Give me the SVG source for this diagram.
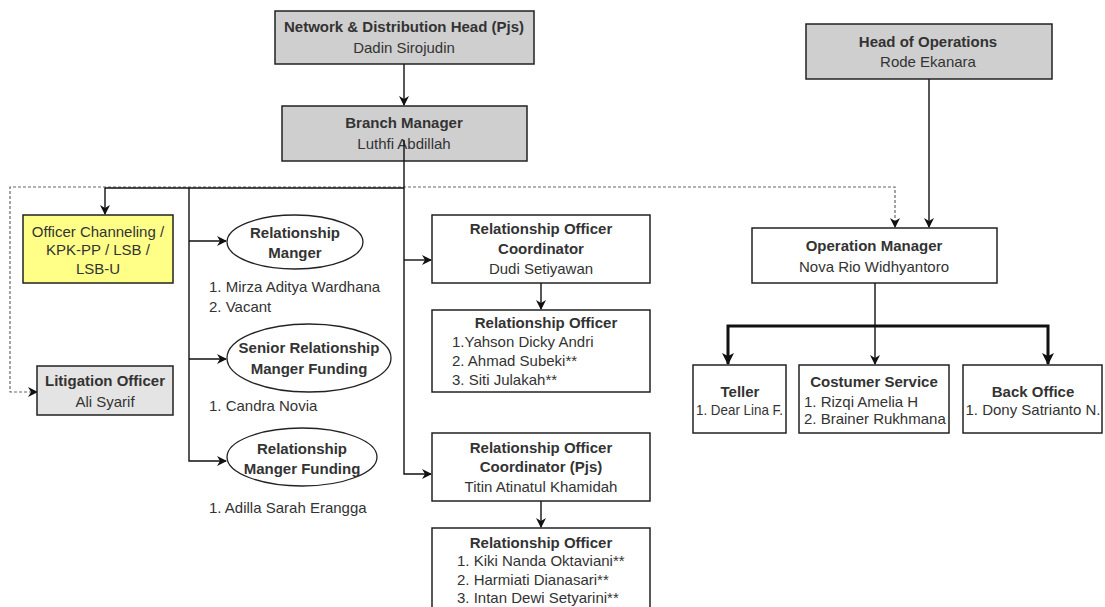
<svg xmlns="http://www.w3.org/2000/svg" width="1105" height="607" viewBox="0 0 1105 607">
<style>
text{font-family:"Liberation Sans",Arial,sans-serif;font-size:15px;fill:#333}
.b{font-weight:bold}
.c{text-anchor:middle}
.box{fill:#fff;stroke:#222;stroke-width:1.5}
.grey{fill:#cfcfcf;stroke:#222;stroke-width:1.5}
.lgrey{fill:#e4e4e4;stroke:#222;stroke-width:1.5}
.yel{fill:#ffff88;stroke:#222;stroke-width:1.5}
.ell{fill:#fff;stroke:#222;stroke-width:1.3}
.ln{fill:none;stroke:#111;stroke-width:1.4}
.bold{fill:none;stroke:#111;stroke-width:3}
.dot{fill:none;stroke:#666;stroke-width:1.2;stroke-dasharray:3 2}
</style>
<defs>
<marker id="a" markerWidth="10" markerHeight="10" refX="9" refY="5" orient="auto-start-reverse" markerUnits="userSpaceOnUse">
<path d="M0,0 L10,5 L0,10 L3,5 Z" fill="#111"/>
</marker>
<marker id="ab" markerWidth="12" markerHeight="12" refX="11" refY="6" orient="auto" markerUnits="userSpaceOnUse">
<path d="M0,0 L12,6 L0,12 L3,6 Z" fill="#111"/>
</marker>
</defs>
<rect width="1105" height="607" fill="#fff"/>
<g id="connectors">
<path class="dot" d="M37,392 H10 V187 H895 V227" marker-start="url(#a)" marker-end="url(#a)"/>
<path class="ln" d="M404,64 V105" marker-end="url(#a)"/>
<path class="ln" d="M404,140 V474 H431" marker-end="url(#a)"/>
<path class="ln" d="M404,260 H431" marker-end="url(#a)"/>
<path class="ln" d="M404,188 H105 V214" marker-end="url(#a)"/>
<path class="ln" d="M189,188 V461 H226" marker-end="url(#a)"/>
<path class="ln" d="M189,241 H226" marker-end="url(#a)"/>
<path class="ln" d="M189,359 H226" marker-end="url(#a)"/>
<path class="ln" d="M541,283 V309" marker-end="url(#a)"/>
<path class="ln" d="M541,501 V527" marker-end="url(#a)"/>
<path class="ln" d="M929,79 V227" marker-end="url(#a)"/>
<path class="ln" d="M875,283 V364" marker-end="url(#a)"/>
<path class="bold" d="M875,326 H728 V364" marker-end="url(#ab)"/>
<path class="bold" d="M875,326 H1048 V364" marker-end="url(#ab)"/>
</g>
<g id="network-head">
<rect class="grey" x="275" y="11" width="259" height="53"/>
<text class="b c" x="404" y="32">Network &amp; Distribution Head (Pjs)</text>
<text class="c" x="404" y="53">Dadin Sirojudin</text>
</g>
<g id="branch-manager">
<rect class="grey" x="282" y="106" width="245" height="55"/>
<text class="b c" x="404" y="128">Branch Manager</text>
<text class="c" x="404" y="149">Luthfi Abdillah</text>
</g>
<path class="ln" d="M404,140 V161"/>
<g id="head-operations">
<rect class="grey" x="806" y="24" width="246" height="55"/>
<text class="b c" x="928" y="47">Head of Operations</text>
<text class="c" x="928" y="67">Rode Ekanara</text>
</g>
<g id="officer-channeling">
<rect class="yel" x="23" y="215" width="150" height="68"/>
<text class="c" x="98" y="237">Officer Channeling /</text>
<text class="c" x="98" y="255">KPK-PP / LSB /</text>
<text class="c" x="98" y="274">LSB-U</text>
</g>
<g id="litigation-officer">
<rect class="lgrey" x="37" y="366" width="136" height="49"/>
<text class="b c" x="105" y="386">Litigation Officer</text>
<text class="c" x="105" y="407">Ali Syarif</text>
</g>
<g id="relationship-manager">
<ellipse class="ell" cx="295" cy="242" rx="68" ry="27"/>
<text class="b c" x="295" y="238">Relationship</text>
<text class="b c" x="295" y="258">Manger</text>
<text x="209" y="292">1. Mirza Aditya Wardhana</text>
<text x="209" y="312">2. Vacant</text>
</g>
<g id="senior-rm-funding">
<ellipse class="ell" cx="309" cy="358" rx="82" ry="34"/>
<text class="b c" x="309" y="353">Senior Relationship</text>
<text class="b c" x="309" y="374">Manger Funding</text>
<text x="209" y="411">1. Candra Novia</text>
</g>
<g id="rm-funding">
<ellipse class="ell" cx="302" cy="457" rx="75" ry="29"/>
<text class="b c" x="302" y="454">Relationship</text>
<text class="b c" x="302" y="474">Manger Funding</text>
<text x="209" y="513">1. Adilla Sarah Erangga</text>
</g>
<g id="ro-coordinator">
<rect class="box" x="432" y="215" width="218" height="68"/>
<text class="b c" x="541" y="234">Relationship Officer</text>
<text class="b c" x="541" y="254">Coordinator</text>
<text class="c" x="541" y="274">Dudi Setiyawan</text>
</g>
<g id="ro-1">
<rect class="box" x="432" y="310" width="218" height="82"/>
<text class="b c" x="546" y="328">Relationship Officer</text>
<text x="452" y="347">1.Yahson Dicky Andri</text>
<text x="452" y="366">2. Ahmad Subeki**</text>
<text x="452" y="385">3. Siti Julakah**</text>
</g>
<g id="ro-coordinator-pjs">
<rect class="box" x="432" y="433" width="218" height="68"/>
<text class="b c" x="541" y="453">Relationship Officer</text>
<text class="b c" x="541" y="472">Coordinator (Pjs)</text>
<text class="c" x="541" y="492">Titin Atinatul Khamidah</text>
</g>
<g id="ro-2">
<rect class="box" x="432" y="528" width="218" height="90"/>
<text class="b c" x="541" y="548">Relationship Officer</text>
<text x="457" y="566">1. Kiki Nanda Oktaviani**</text>
<text x="457" y="585">2. Harmiati Dianasari**</text>
<text x="457" y="603">3. Intan Dewi Setyarini**</text>
</g>
<g id="operation-manager">
<rect class="box" x="752" y="228" width="245" height="55"/>
<text class="b c" x="874" y="251">Operation Manager</text>
<text class="c" x="874" y="272">Nova Rio Widhyantoro</text>
</g>
<g id="teller">
<rect class="box" x="693" y="365" width="93" height="68"/>
<text class="b c" x="740" y="397">Teller</text>
<text x="696" y="415" textLength="87" lengthAdjust="spacingAndGlyphs">1. Dear Lina F.</text>
</g>
<g id="customer-service">
<rect class="box" x="799" y="365" width="150" height="68"/>
<text class="b c" x="874" y="387">Costumer Service</text>
<text x="804" y="407">1. Rizqi Amelia H</text>
<text x="804" y="424">2. Brainer Rukhmana</text>
</g>
<g id="back-office">
<rect class="box" x="963" y="365" width="139" height="68"/>
<text class="b c" x="1033" y="397">Back Office</text>
<text class="c" x="1033" y="415">1. Dony Satrianto N.</text>
</g>
</svg>
